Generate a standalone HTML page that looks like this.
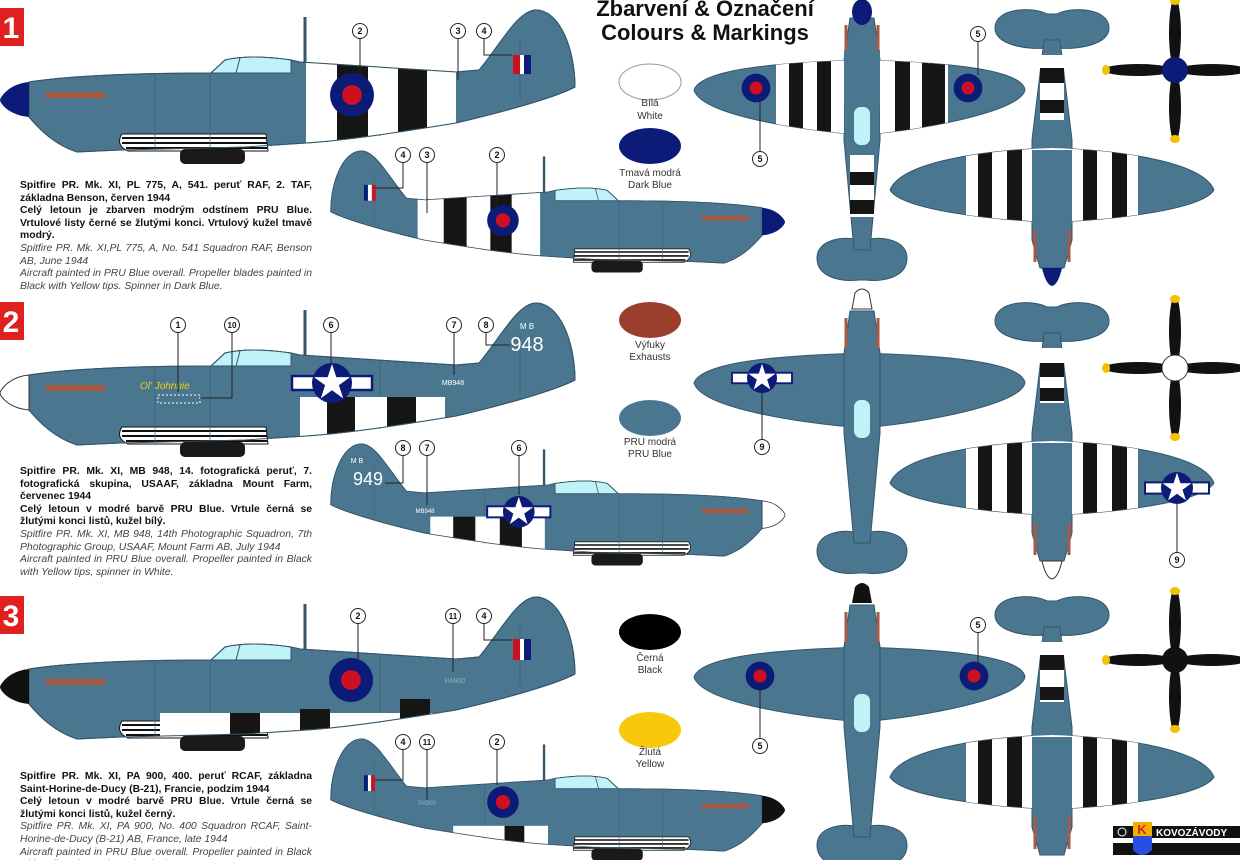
<!DOCTYPE html>
<html><head><meta charset="utf-8"><style>
html,body{margin:0;padding:0;background:#fff;width:1240px;height:860px;overflow:hidden}
svg{display:block}
.t{font-family:"Liberation Sans",sans-serif}
.desc{position:absolute;left:20px;width:292px;font-family:"Liberation Sans","DejaVu Sans",sans-serif;font-size:10.4px;line-height:12.6px;text-align:justify;color:#111}
.desc b{font-weight:bold}
.desc i{color:#444}
</style></head><body>
<div style="position:relative;width:1240px;height:860px">
<svg width="1240" height="860" viewBox="0 0 1240 860" xmlns="http://www.w3.org/2000/svg">
<defs>
<path id="body" d="M29,82 C60,77 120,73 211,73 L225,60 Q250,54 291,60 L300,62 L456,72 L479,70 C500,45 518,10 536,10 C560,10 575,50 575,87 C560,95 520,108 456,123 C400,132 350,140 306,143 L245,147 L120,150 L77,152 C55,145 40,130 29,117 Z"/>
<clipPath id="cb"><use href="#body"/></clipPath>
<g id="side">
 <use href="#body" fill="#4a7690" stroke="#33566c" stroke-width="1"/>
 <path d="M211,73 L225,60 Q250,54 291,60 L291,73 Z" fill="#bff3f7" stroke="#33566c" stroke-width="1"/>
 <line x1="240" y1="58" x2="236" y2="73" stroke="#33566c"/>
 <line x1="305" y1="17" x2="305" y2="62" stroke="#33566c" stroke-width="3"/>
 <rect x="46" y="92" width="59" height="6" fill="#a65a44"/>
 <path d="M122,134 Q115,145 128,151 L268,151 L266,134 Z" fill="#fff" stroke="#111" stroke-width="1"/>
 <path d="M122,138 L266,138 M122,143 L267,143 M126,148 L267,148" stroke="#111" stroke-width="2" fill="none"/>
 <rect x="180" y="149" width="65" height="15" rx="5" fill="#1a1a1a"/>
 <g stroke="#3b6178" stroke-width="0.7" fill="none"><path d="M155,74 L155,150 M210,73 L210,148 M380,68 L380,136 M520,40 L520,100"/></g>
</g>
<path id="upw" d="M-168,90 C-160,66 -60,62 0,60 C60,62 160,66 163,90 C158,112 60,130 0,135 C-60,130 -160,116 -168,90 Z"/>
<clipPath id="cupw"><use href="#upw"/></clipPath>
<g id="top">
 <path d="M-45,258 C-45,238 -15,236 -3,240 L3,240 C15,236 45,238 45,258 C45,278 20,282 3,280 L-3,280 C-20,282 -45,278 -45,258 Z" fill="#4a7690" stroke="#33566c"/>
 <use href="#upw" fill="#4a7690" stroke="#33566c"/>
 <path d="M-12,18 L12,18 L18,60 L18,140 L8,250 L-8,250 L-18,140 L-18,60 Z" fill="#4a7690" stroke="#33566c"/>
 <rect x="-8" y="107" width="16" height="38" rx="7" fill="#bff3f7"/>
 <path d="M-16,25 L-16,55 M16,25 L16,55" stroke="#a65a44" stroke-width="3"/>
</g>
<path id="dnw" d="M-162,190 C-150,160 -60,150 0,148 C60,150 150,160 162,190 C150,210 60,220 0,222 C-60,220 -150,210 -162,190 Z"/>
<clipPath id="cdnw"><use href="#dnw"/></clipPath>
<g id="bot">
 <path d="M-57,28 C-57,8 -20,6 -5,14 L5,14 C20,6 57,8 57,28 C57,45 25,50 5,48 L-5,48 C-25,50 -57,45 -57,28 Z" fill="#4a7690" stroke="#33566c"/>
 <use href="#dnw" fill="#4a7690" stroke="#33566c"/>
 <path d="M-8,40 L8,40 L20,140 L20,240 L12,268 L-12,268 L-20,240 L-20,140 Z" fill="#4a7690" stroke="#33566c"/>
 <path d="M-17,230 L-17,262 M17,230 L17,262" stroke="#a65a44" stroke-width="3"/>
 <circle cx="-42" cy="185" r="7" fill="#2f5a4e"/><circle cx="42" cy="185" r="7" fill="#2f5a4e"/>
</g>
<g id="prop">
 <ellipse cx="0" cy="-37" rx="6" ry="35" fill="#111"/>
 <ellipse cx="0" cy="37" rx="6" ry="35" fill="#111"/>
 <ellipse cx="-37" cy="0" rx="35" ry="6" fill="#111"/>
 <ellipse cx="37" cy="0" rx="35" ry="6" fill="#111"/>
 <ellipse cx="0" cy="-69" rx="5" ry="4" fill="#f2c200"/><ellipse cx="0" cy="69" rx="5" ry="4" fill="#f2c200"/>
 <ellipse cx="-69" cy="0" rx="4" ry="5" fill="#f2c200"/><ellipse cx="69" cy="0" rx="4" ry="5" fill="#f2c200"/>
</g>
<polygon id="star" points="0,-1 0.225,-0.309 0.951,-0.309 0.363,0.118 0.588,0.809 0,0.382 -0.588,0.809 -0.363,0.118 -0.951,-0.309 -0.225,-0.309" fill="#fff"/>
<g id="usi">
 <rect x="-40" y="-7" width="80" height="14" fill="#fff" stroke="#0d1b78" stroke-width="2.5"/>
 <circle r="20" fill="#0d1b78"/>
 <use href="#star" transform="scale(19)"/>
</g>
<g id="rdl"><circle r="20" fill="#0d1b78"/><circle r="9" fill="#cc1122"/></g>
</defs>

<text class="t" x="705" y="16" text-anchor="middle" font-size="22" font-weight="bold" fill="#111">Zbarvení &amp; Označení</text>
<text class="t" x="705" y="40" text-anchor="middle" font-size="22" font-weight="bold" fill="#111">Colours &amp; Markings</text>

<g class="t" font-family="Liberation Serif,serif" font-weight="bold" font-size="30" text-anchor="middle">
<rect x="0" y="8" width="24" height="38" fill="#e01f1f"/><text x="11" y="38" fill="#fff">1</text>
<rect x="0" y="302" width="24" height="38" fill="#e01f1f"/><text x="11" y="332" fill="#fff">2</text>
<rect x="0" y="596" width="24" height="38" fill="#e01f1f"/><text x="11" y="626" fill="#fff">3</text>
</g>

<!-- ROW 1 -->
<g>
 <use href="#side"/>
 <g clip-path="url(#cb)"><rect x="306" y="0" width="150" height="170" fill="#fff"/><rect x="337" y="0" width="31" height="170" fill="#151515"/><rect x="398" y="0" width="29" height="170" fill="#151515"/></g>
 <use href="#body" fill="none" stroke="#33566c"/>
 <path d="M29,82 C8,84 0,98 0,100 C0,103 8,115 29,117 Z" fill="#0d1b78"/>
 <use href="#rdl" transform="translate(352,95) scale(1.1)"/>
 <rect x="513" y="55" width="7" height="19" fill="#cc1122"/><rect x="520" y="55" width="4" height="19" fill="#fff"/><rect x="524" y="55" width="7" height="19" fill="#0d1b78"/>
</g>
<g transform="translate(785,143) scale(-0.79,0.79)">
 <use href="#side"/>
 <g clip-path="url(#cb)"><rect x="310" y="0" width="155" height="170" fill="#fff"/><rect x="403" y="0" width="29" height="170" fill="#151515"/><rect x="346" y="0" width="27" height="170" fill="#151515"/></g>
 <use href="#body" fill="none" stroke="#33566c"/>
 <path d="M29,82 C8,84 0,98 0,100 C0,103 8,115 29,117 Z" fill="#0d1b78"/>
 <use href="#rdl" transform="translate(357,98)"/>
 <rect x="518" y="53" width="5" height="20" fill="#cc1122"/><rect x="523" y="53" width="5" height="20" fill="#fff"/><rect x="528" y="53" width="5" height="20" fill="#0d1b78"/>
</g>

<!-- ROW 2 -->
<g transform="translate(0,293)">
 <use href="#side"/>
 <g clip-path="url(#cb)"><rect x="300" y="104" width="145" height="60" fill="#fff"/><rect x="327" y="104" width="28" height="60" fill="#151515"/><rect x="387" y="104" width="29" height="60" fill="#151515"/></g>
 <use href="#body" fill="none" stroke="#33566c"/>
 <path d="M29,82 C8,84 0,98 0,100 C0,103 8,115 29,117 Z" fill="#fff" stroke="#333"/>
 <use href="#usi" transform="translate(332,90)"/>
 <text class="t" x="140" y="96" font-size="10" font-style="italic" fill="#f0d000">Ol' Johnnie</text>
 <rect x="158" y="102" width="42" height="8" fill="none" stroke="#fff" stroke-dasharray="2,2"/>
</g>
<text class="t" x="527" y="329" text-anchor="middle" font-size="8" fill="#fff">M B</text>
<text class="t" x="527" y="351" text-anchor="middle" font-size="20" fill="#fff">948</text>
<text class="t" x="453" y="385" text-anchor="middle" font-size="7" fill="#fff">MB948</text>
<g transform="translate(785,436) scale(-0.79,0.79)">
 <use href="#side"/>
 <g clip-path="url(#cb)"><rect x="304" y="102" width="145" height="70" fill="#fff"/><rect x="392" y="102" width="28" height="70" fill="#151515"/><rect x="333" y="102" width="28" height="70" fill="#151515"/></g>
 <use href="#body" fill="none" stroke="#33566c"/>
 <path d="M29,82 C8,84 0,98 0,100 C0,103 8,115 29,117 Z" fill="#fff" stroke="#333"/>
 <use href="#usi" transform="translate(337,96)"/>
</g>
<text class="t" x="357" y="463" text-anchor="middle" font-size="7" fill="#fff">M B</text>
<text class="t" x="368" y="485" text-anchor="middle" font-size="18" fill="#fff">949</text>
<text class="t" x="425" y="513" text-anchor="middle" font-size="6" fill="#fff">MB948</text>

<!-- ROW 3 -->
<g transform="translate(0,587)">
 <use href="#side"/>
 <g clip-path="url(#cb)"><rect x="160" y="126" width="300" height="40" fill="#fff"/><rect x="230" y="126" width="30" height="40" fill="#151515"/><rect x="300" y="122" width="30" height="40" fill="#151515"/><rect x="400" y="112" width="30" height="40" fill="#151515"/></g>
 <use href="#body" fill="none" stroke="#33566c"/>
 <path d="M29,82 C8,84 0,98 0,100 C0,103 8,115 29,117 Z" fill="#111"/>
 <use href="#rdl" transform="translate(351,93) scale(1.1)"/>
 <rect x="513" y="52" width="7" height="21" fill="#cc1122"/><rect x="520" y="52" width="4" height="21" fill="#fff"/><rect x="524" y="52" width="7" height="21" fill="#0d1b78"/>
</g>
<text class="t" x="455" y="683" text-anchor="middle" font-size="7" fill="#8fb0c4">PA900</text>
<g transform="translate(785,731) scale(-0.79,0.79)">
 <use href="#side"/>
 <g clip-path="url(#cb)"><rect x="300" y="120" width="120" height="50" fill="#fff"/><rect x="330" y="120" width="25" height="50" fill="#151515"/></g>
 <use href="#body" fill="none" stroke="#33566c"/>
 <path d="M29,82 C8,84 0,98 0,100 C0,103 8,115 29,117 Z" fill="#111"/>
 <use href="#rdl" transform="translate(357,90)"/>
 <rect x="519" y="56" width="5" height="20" fill="#cc1122"/><rect x="524" y="56" width="4" height="20" fill="#fff"/><rect x="528" y="56" width="5" height="20" fill="#0d1b78"/>
</g>
<text class="t" x="427" y="805" text-anchor="middle" font-size="6" fill="#8fb0c4">PA900</text>

<!-- top views -->
<g transform="translate(862,0)">
 <use href="#top"/>
 <g clip-path="url(#cupw)"><rect x="-86" y="50" width="68" height="100" fill="#fff"/><rect x="18" y="50" width="68" height="100" fill="#fff"/><rect x="-73" y="50" width="14" height="100" fill="#151515"/><rect x="-45" y="50" width="14" height="100" fill="#151515"/><rect x="33" y="50" width="15" height="100" fill="#151515"/><rect x="60" y="50" width="23" height="100" fill="#151515"/></g>
 <rect x="-18" y="50" width="36" height="55" fill="#4a7690"/>
 <rect x="-8" y="107" width="16" height="38" rx="7" fill="#bff3f7"/>
 <rect x="-12" y="155" width="24" height="62" fill="#fff"/><rect x="-12" y="172" width="24" height="13" fill="#151515"/><rect x="-12" y="200" width="24" height="14" fill="#151515"/>
 <use href="#rdl" transform="translate(-106,88) scale(0.72)"/>
 <use href="#rdl" transform="translate(106,88) scale(0.72)"/>
 <ellipse cx="0" cy="12" rx="10" ry="13" fill="#0d1b78"/>
</g>
<g transform="translate(862,293)">
 <use href="#top"/>
 <use href="#usi" transform="translate(-100,85) scale(0.75)"/>
 <path d="M-7,0 Q0,-8 7,0 L10,16 L-10,16 Z" fill="#fff" stroke="#333"/>
</g>
<g transform="translate(862,587)">
 <use href="#top"/>
 <use href="#rdl" transform="translate(-102,89) scale(0.72)"/>
 <use href="#rdl" transform="translate(112,89) scale(0.72)"/>
 <path d="M-7,0 Q0,-8 7,0 L10,16 L-10,16 Z" fill="#111"/>
</g>

<!-- underside views -->
<g transform="translate(1052,0)">
 <use href="#bot"/>
 <g clip-path="url(#cdnw)"><rect x="-86" y="140" width="172" height="90" fill="#fff"/><rect x="-74" y="140" width="14" height="90" fill="#151515"/><rect x="-45" y="140" width="15" height="90" fill="#151515"/><rect x="31" y="140" width="14" height="90" fill="#151515"/><rect x="60" y="140" width="15" height="90" fill="#151515"/></g>
 <path d="M-20,150 L20,150 L20,222 L-20,222 Z" fill="#4a7690"/>
 <rect x="-12" y="55" width="24" height="65" fill="#fff"/><rect x="-12" y="68" width="24" height="15" fill="#151515"/><rect x="-12" y="100" width="24" height="13" fill="#151515"/>
 <path d="M-10,268 L10,268 Q6,285 0,286 Q-6,285 -10,268 Z" fill="#0d1b78"/>
</g>
<g transform="translate(1052,293)">
 <use href="#bot"/>
 <g clip-path="url(#cdnw)"><rect x="-86" y="140" width="172" height="90" fill="#fff"/><rect x="-74" y="140" width="14" height="90" fill="#151515"/><rect x="-45" y="140" width="15" height="90" fill="#151515"/><rect x="31" y="140" width="14" height="90" fill="#151515"/><rect x="60" y="140" width="15" height="90" fill="#151515"/></g>
 <path d="M-20,150 L20,150 L20,222 L-20,222 Z" fill="#4a7690"/>
 <rect x="-12" y="55" width="24" height="55" fill="#fff"/><rect x="-12" y="70" width="24" height="14" fill="#151515"/><rect x="-12" y="95" width="24" height="13" fill="#151515"/>
 <use href="#usi" transform="translate(125,195) scale(0.8)"/>
 <path d="M-10,268 L10,268 Q6,285 0,286 Q-6,285 -10,268 Z" fill="#fff" stroke="#333"/>
</g>
<g transform="translate(1052,587)">
 <use href="#bot"/>
 <g clip-path="url(#cdnw)"><rect x="-86" y="140" width="172" height="90" fill="#fff"/><rect x="-74" y="140" width="14" height="90" fill="#151515"/><rect x="-45" y="140" width="15" height="90" fill="#151515"/><rect x="31" y="140" width="14" height="90" fill="#151515"/><rect x="60" y="140" width="15" height="90" fill="#151515"/></g>
 <path d="M-20,150 L20,150 L20,222 L-20,222 Z" fill="#4a7690"/>
 <rect x="-12" y="55" width="24" height="60" fill="#fff"/><rect x="-12" y="68" width="24" height="15" fill="#151515"/><rect x="-12" y="100" width="24" height="13" fill="#151515"/>
</g>

<use href="#prop" x="1175" y="70"/><circle cx="1175" cy="70" r="13" fill="#0d1b78"/>
<use href="#prop" x="1175" y="368"/><circle cx="1175" cy="368" r="13" fill="#fff" stroke="#333"/>
<use href="#prop" x="1175" y="660"/><circle cx="1175" cy="660" r="13" fill="#111"/>

<!-- palette -->
<g class="t" font-size="10" text-anchor="middle" fill="#333">
 <ellipse cx="650" cy="82" rx="31" ry="18" fill="#fff" stroke="#999"/><text x="650" y="106">Bílá</text><text x="650" y="119">White</text>
 <ellipse cx="650" cy="146" rx="31" ry="18" fill="#0d1b78"/><text x="650" y="176">Tmavá modrá</text><text x="650" y="188">Dark Blue</text>
 <ellipse cx="650" cy="320" rx="31" ry="18" fill="#9b3e2e"/><text x="650" y="348">Výfuky</text><text x="650" y="360">Exhausts</text>
 <ellipse cx="650" cy="418" rx="31" ry="18" fill="#4a7690"/><text x="650" y="445">PRU modrá</text><text x="650" y="457">PRU Blue</text>
 <ellipse cx="650" cy="632" rx="31" ry="18" fill="#000"/><text x="650" y="661">Černá</text><text x="650" y="673">Black</text>
 <ellipse cx="650" cy="730" rx="31" ry="18" fill="#f7c90a"/><text x="650" y="755">Žlutá</text><text x="650" y="767">Yellow</text>
</g>

<!-- callouts -->
<g class="t" font-size="9" font-weight="bold" text-anchor="middle" fill="#111">
<g fill="none" stroke="#222" stroke-width="1">
 <path d="M360,39 L360,74"/><path d="M458,39 L458,80"/><path d="M484,39 L484,55 L512,55"/>
 <path d="M403,163 L403,188 L375,188"/><path d="M427,163 L427,213"/><path d="M497,163 L497,205"/>
 <path d="M978,42 L978,75"/><path d="M760,151 L760,100"/>
 <path d="M178,332 L178,392"/><path d="M232,332 L232,398 L200,398"/><path d="M331,332 L331,365"/><path d="M454,332 L454,375"/><path d="M486,332 L486,345 L510,345"/>
 <path d="M403,455 L403,483 L385,483"/><path d="M427,455 L427,505"/><path d="M519,455 L519,495"/>
 <path d="M762,440 L762,392"/><path d="M1177,552 L1177,500"/>
 <path d="M358,623 L358,662"/><path d="M453,623 L453,672"/><path d="M484,623 L484,640 L512,640"/>
 <path d="M403,749 L403,780 L375,780"/><path d="M427,749 L427,800"/><path d="M497,749 L497,785"/>
 <path d="M978,632 L978,665"/><path d="M760,738 L760,690"/>
</g>
<g fill="#fff" stroke="#222" stroke-width="1">
 <circle cx="360" cy="31" r="7.5"/><circle cx="458" cy="31" r="7.5"/><circle cx="484" cy="31" r="7.5"/>
 <circle cx="403" cy="155" r="7.5"/><circle cx="427" cy="155" r="7.5"/><circle cx="497" cy="155" r="7.5"/>
 <circle cx="978" cy="34" r="7.5"/><circle cx="760" cy="159" r="7.5"/>
 <circle cx="178" cy="325" r="7.5"/><circle cx="232" cy="325" r="7.5"/><circle cx="331" cy="325" r="7.5"/><circle cx="454" cy="325" r="7.5"/><circle cx="486" cy="325" r="7.5"/>
 <circle cx="403" cy="448" r="7.5"/><circle cx="427" cy="448" r="7.5"/><circle cx="519" cy="448" r="7.5"/>
 <circle cx="762" cy="447" r="7.5"/><circle cx="1177" cy="560" r="7.5"/>
 <circle cx="358" cy="616" r="7.5"/><circle cx="453" cy="616" r="7.5"/><circle cx="484" cy="616" r="7.5"/>
 <circle cx="403" cy="742" r="7.5"/><circle cx="427" cy="742" r="7.5"/><circle cx="497" cy="742" r="7.5"/>
 <circle cx="978" cy="625" r="7.5"/><circle cx="760" cy="746" r="7.5"/>
</g>
<text x="360" y="34">2</text><text x="458" y="34">3</text><text x="484" y="34">4</text>
<text x="403" y="158">4</text><text x="427" y="158">3</text><text x="497" y="158">2</text>
<text x="978" y="37">5</text><text x="760" y="162">5</text>
<text x="178" y="328">1</text><text x="232" y="328" font-size="8">10</text><text x="331" y="328">6</text><text x="454" y="328">7</text><text x="486" y="328">8</text>
<text x="403" y="451">8</text><text x="427" y="451">7</text><text x="519" y="451">6</text>
<text x="762" y="450">9</text><text x="1177" y="563">9</text>
<text x="358" y="619">2</text><text x="453" y="619" font-size="8">11</text><text x="484" y="619">4</text>
<text x="403" y="745">4</text><text x="427" y="745" font-size="8">11</text><text x="497" y="745">2</text>
<text x="978" y="628">5</text><text x="760" y="749">5</text>
</g>

<rect x="1113" y="826" width="127" height="12" fill="#111"/>
<rect x="1113" y="843" width="127" height="12" fill="#111"/>
<path d="M1133,822 L1152,822 L1152,850 Q1142,860 1133,850 Z" fill="#2a4fe0"/>
<rect x="1133" y="822" width="19" height="14" fill="#f0b000"/>
<text class="t" x="1142" y="834" text-anchor="middle" font-size="13" font-weight="bold" fill="#e01f1f">K</text>
<text class="t" x="1156" y="836" font-size="10" font-weight="bold" fill="#fff">KOVOZÁVODY</text>
<circle cx="1122" cy="832" r="4" fill="none" stroke="#fff"/>
</svg>

<div class="desc" style="top:180px"><b>Spitfire PR. Mk. XI, PL 775, A, 541. peruť RAF, 2. TAF, základna Benson, červen 1944<br>Celý letoun je zbarven modrým odstínem PRU Blue. Vrtulové listy černé se žlutými konci. Vrtulový kužel tmavě modrý.</b><br><i>Spitfire PR. Mk. XI,PL 775, A, No. 541 Squadron RAF, Benson AB, June 1944<br>Aircraft painted in PRU Blue overall. Propeller blades painted in Black with Yellow tips. Spinner in Dark Blue.</i></div>
<div class="desc" style="top:466px"><b>Spitfire PR. Mk. XI, MB 948, 14. fotografická peruť, 7. fotografická skupina, USAAF, základna Mount Farm, červenec 1944<br>Celý letoun v modré barvě PRU Blue. Vrtule černá se žlutými konci listů, kužel bílý.</b><br><i>Spitfire PR. Mk. XI, MB 948, 14th Photographic Squadron, 7th Photographic Group, USAAF, Mount Farm AB, July 1944<br>Aircraft painted in PRU Blue overall. Propeller painted in Black with Yellow tips, spinner in White.</i></div>
<div class="desc" style="top:771px"><b>Spitfire PR. Mk. XI, PA 900, 400. peruť RCAF, základna Saint-Horine-de-Ducy (B-21), Francie, podzim 1944<br>Celý letoun v modré barvě PRU Blue. Vrtule černá se žlutými konci listů, kužel černý.</b><br><i>Spitfire PR. Mk. XI, PA 900, No. 400 Squadron RCAF, Saint-Horine-de-Ducy (B-21) AB, France, late 1944<br>Aircraft painted in PRU Blue overall. Propeller painted in Black with Yellow tips, spinner in Black.</i></div>
</div>
</body></html>
